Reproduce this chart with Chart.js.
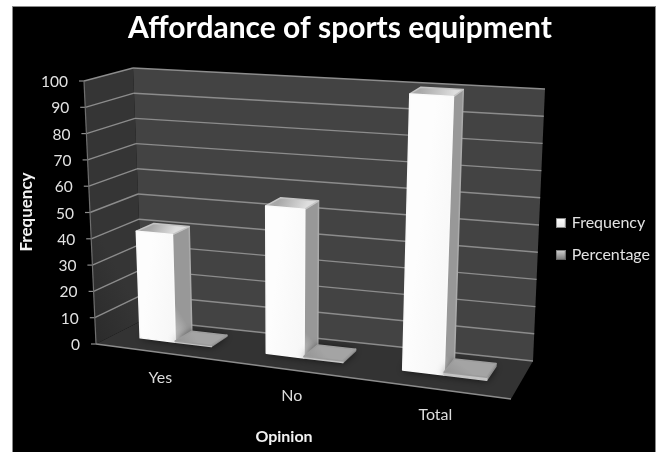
<!DOCTYPE html>
<html>
<head>
<meta charset="utf-8">
<title>Affordance of sports equipment</title>
<script src="https://cdn.jsdelivr.net/npm/chart.js@4/dist/chart.umd.min.js"></script>
<style>
  html, body { margin: 0; padding: 0; background: #fff; }
  #wrap { width: 663px; height: 452px; }
</style>
</head>
<body>
<div id="wrap"><canvas id="grafico" width="663" height="452"></canvas></div>
<script>
const categorias = ['Yes', 'No', 'Total'];
const frecuencia = [41, 55, 100];
const porcentaje = [0.41, 0.55, 1];
const marcasY = [0, 10, 20, 30, 40, 50, 60, 70, 80, 90, 100];

const FUENTE = 'Lato, "Open Sans", sans-serif';

// Corners of the 3D box: floor and ceiling, front-left going round to back-left
const PISO = [[96, 344], [511, 399], [533, 361], [143, 320]];
const TECHO = [[84, 81], [525, 109], [545, 89], [133, 68]];
const BARRA_V = [0.38, 0.76]; // depth of the bars inside the box
const PESO_PERSPECTIVA = 0.4; // how much of the projective map goes in; the rest is bilinear

// Unit square -> quad, part projective so the right side looks a bit closer
function mapaCuadro(q) {
  const [[x0, y0], [x1, y1], [x2, y2], [x3, y3]] = q;
  const sx = x0 - x1 + x2 - x3, sy = y0 - y1 + y2 - y3;
  const dx1 = x1 - x2, dx2 = x3 - x2, dy1 = y1 - y2, dy2 = y3 - y2;
  const den = dx1 * dy2 - dx2 * dy1;
  const g = (sx * dy2 - dx2 * sy) / den;
  const h = (dx1 * sy - sx * dy1) / den;
  const a = x1 - x0 + g * x1, b = x3 - x0 + h * x3;
  const d = y1 - y0 + g * y1, e = y3 - y0 + h * y3;
  return (u, v) => {
    const w = g * u + h * v + 1;
    const px = (a * u + b * v + x0) / w, py = (d * u + e * v + y0) / w;
    const bx = x0 * (1 - u) * (1 - v) + x1 * u * (1 - v) + x2 * u * v + x3 * (1 - u) * v;
    const by = y0 * (1 - u) * (1 - v) + y1 * u * (1 - v) + y2 * u * v + y3 * (1 - u) * v;
    return [bx + (px - bx) * PESO_PERSPECTIVA, by + (py - by) * PESO_PERSPECTIVA];
  };
}
const piso = mapaCuadro(PISO);
const techo = mapaCuadro(TECHO);

// u: across the categories, v: depth, t: height (all 0..1)
function proy(u, v, t) {
  const f = piso(u, v), c = techo(u, v);
  return [f[0] + (c[0] - f[0]) * t, f[1] + (c[1] - f[1]) * t];
}

function poligono(ctx, pts, fill, borde) {
  ctx.beginPath();
  pts.forEach((p, i) => i ? ctx.lineTo(p[0], p[1]) : ctx.moveTo(p[0], p[1]));
  ctx.closePath();
  ctx.fillStyle = fill;
  ctx.fill();
  if (borde) {
    ctx.strokeStyle = borde;
    ctx.lineWidth = 1.5;
    ctx.lineJoin = 'round';
    ctx.stroke();
  }
}

function linea(ctx, a, b, color, ancho) {
  ctx.beginPath();
  ctx.moveTo(a[0], a[1]);
  ctx.lineTo(b[0], b[1]);
  ctx.strokeStyle = color;
  ctx.lineWidth = ancho;
  ctx.stroke();
}

function degradado(ctx, a, b, c0, c1) {
  const g = ctx.createLinearGradient(a[0], a[1], b[0], b[1]);
  g.addColorStop(0, c0);
  g.addColorStop(1, c1);
  return g;
}

// Small bevelled square used as legend key
function iconoLeyenda(claro, oscuro) {
  const c = document.createElement('canvas');
  c.width = 10;
  c.height = 10;
  const g = c.getContext('2d');
  const grad = g.createLinearGradient(0, 0, 0, 10);
  grad.addColorStop(0, claro);
  grad.addColorStop(1, oscuro);
  g.fillStyle = grad;
  g.fillRect(0, 0, 10, 10);
  g.strokeStyle = 'rgba(90,90,90,0.7)';
  g.strokeRect(0.5, 0.5, 9, 9);
  return c;
}
const iconos = [iconoLeyenda('#ffffff', '#e4e4e4'), iconoLeyenda('#d4d4d4', '#777777')];

function dibujarCaja(ctx, escalaY) {
  poligono(ctx, [proy(0, 0, 0), proy(0, 1, 0), proy(0, 1, 1), proy(0, 0, 1)],
    degradado(ctx, proy(0, 0, 0), proy(0, 1, 0), '#2b2b2b', '#353535'));
  poligono(ctx, [proy(0, 1, 0), proy(1, 1, 0), proy(1, 1, 1), proy(0, 1, 1)], '#434343');
  poligono(ctx, [proy(0, 0, 0), proy(1, 0, 0), proy(1, 1, 0), proy(0, 1, 0)], '#333333');

  escalaY.ticks.forEach(tick => {
    const t = (escalaY.bottom - escalaY.getPixelForValue(tick.value)) / (escalaY.bottom - escalaY.top);
    const color = '#8c8c8c';
    if (tick.value > 0) linea(ctx, proy(0, 0, t), proy(0, 1, t), color, 1.4);
    linea(ctx, proy(0, 1, t), proy(1, 1, t), color, 1.4);
    // tick mark and label on the front edge
    const p = proy(0, 0, t);
    linea(ctx, [p[0] - 5, p[1]], p, '#8c8c8c', 1.2);
    ctx.fillStyle = '#e2e2e2';
    ctx.font = '15.5px ' + FUENTE;
    ctx.textAlign = 'right';
    ctx.textBaseline = 'middle';
    ctx.fillText(String(tick.value), p[0] - 16, p[1] + 1);
  });
  linea(ctx, proy(0, 0, 0), proy(0, 0, 1), '#6e6e6e', 1.2);
  linea(ctx, proy(0, 0, 0), proy(1, 0, 0), '#8c8c8c', 1.4);
}

function dibujarBarra(ctx, u0, u1, t, plano) {
  const [v0, v1] = BARRA_V;
  const base = [proy(u0, v0, 0), proy(u1, v0, 0), proy(u1, v1, 0), proy(u0, v1, 0)];

  // soft shadow on the floor around the foot of the bar
  ctx.save();
  ctx.shadowColor = 'rgba(0,0,0,0.75)';
  ctx.shadowBlur = 8;
  poligono(ctx, base, '#222');
  ctx.restore();

  const frente = [proy(u0, v0, 0), proy(u1, v0, 0), proy(u1, v0, t), proy(u0, v0, t)];
  const lado = [proy(u1, v0, 0), proy(u1, v1, 0), proy(u1, v1, t), proy(u1, v0, t)];
  const tapa = [proy(u0, v0, t), proy(u1, v0, t), proy(u1, v1, t), proy(u0, v1, t)];

  if (plano) {
    poligono(ctx, lado, '#8c8c8c', '#8c8c8c');
    poligono(ctx, frente, '#c4c4c4', '#c4c4c4');
    poligono(ctx, tapa, degradado(ctx, tapa[3], tapa[0], '#a4a4a4', '#949494'), '#9c9c9c');
  } else {
    poligono(ctx, lado, degradado(ctx, lado[0], lado[1], '#c6c6c6', '#989898'), '#ababab');
    poligono(ctx, tapa, degradado(ctx, tapa[3], tapa[1], '#a8a8a8', '#dedede'), '#c4c4c4');
    poligono(ctx, frente, degradado(ctx, frente[0], frente[1], '#fdfdfd', '#f6f6f6'), '#fafafa');
  }
}

// Chart.js keeps the scales and bar elements; the 3D look is painted from them
const caja3d = {
  id: 'caja3d',
  beforeDraw(chart) {
    const ctx = chart.ctx;
    ctx.save();
    ctx.fillStyle = '#000';
    ctx.fillRect(12, 6, 644, 446);
    ctx.strokeStyle = '#8a8a8a';
    ctx.lineWidth = 1;
    ctx.strokeRect(12.5, 6.5, 643, 446);
    ctx.restore();
  },
  beforeDatasetsDraw(chart) {
    const ctx = chart.ctx;
    const area = chart.chartArea;
    const escalaX = chart.scales.x, escalaY = chart.scales.y;
    ctx.save();
    dibujarCaja(ctx, escalaY);

    chart.data.labels.forEach((etq, i) => {
      chart.data.datasets.forEach((ds, d) => {
        const el = chart.getDatasetMeta(d).data[i];
        const u0 = (el.x - el.width / 2 - area.left) / area.width;
        const u1 = (el.x + el.width / 2 - area.left) / area.width;
        const t = (escalaY.bottom - el.y) / (escalaY.bottom - escalaY.top);
        dibujarBarra(ctx, u0, u1, t, d === 1);
      });
      // category label under the front edge of the floor
      const uc = (escalaX.getPixelForValue(i) - area.left) / area.width;
      const p = proy(uc, 0, 0);
      ctx.fillStyle = '#dcdcdc';
      ctx.font = '16px ' + FUENTE;
      ctx.textAlign = 'center';
      ctx.textBaseline = 'middle';
      ctx.fillText(etq, p[0] + 2, p[1] + 26);
    });

    // axis titles
    ctx.fillStyle = '#f2f2f2';
    ctx.font = 'bold 16px ' + FUENTE;
    ctx.textAlign = 'center';
    ctx.textBaseline = 'middle';
    ctx.fillText(chart.options.scales.x.title.text, 284, 437);
    ctx.translate(27, 212);
    ctx.rotate(-Math.PI / 2);
    ctx.font = 'bold 17px ' + FUENTE;
    ctx.fillText(chart.options.scales.y.title.text, 0, 0);
    ctx.restore();
    return false;
  }
};

new Chart(document.getElementById('grafico'), {
  type: 'bar',
  plugins: [caja3d],
  data: {
    labels: categorias,
    datasets: [
      { label: 'Frequency', data: frecuencia, backgroundColor: '#f2f2f2', borderColor: '#bdbdbd', borderWidth: 1 },
      { label: 'Percentage', data: porcentaje, backgroundColor: '#9a9a9a', borderColor: '#6a6a6a', borderWidth: 1 },
    ]
  },
  options: {
    responsive: false,
    animation: false,
    devicePixelRatio: 1,
    categoryPercentage: 2 / 3.5,
    barPercentage: 1,
    layout: { padding: { top: 7, right: 3, bottom: 173, left: 20 } },
    plugins: {
      tooltip: { enabled: false },
      title: {
        display: true,
        text: 'Affordance of sports equipment',
        color: '#fff',
        font: { family: FUENTE, size: 30, weight: 'bold' },
        padding: { top: 3, bottom: 10 },
      },
      legend: {
        position: 'right',
        align: 'end',
        labels: {
          color: '#e2e2e2',
          font: { family: FUENTE, size: 16 },
          usePointStyle: true,
          pointStyleWidth: 6,
          boxHeight: 10,
          padding: 16,
          generateLabels: ch => Chart.defaults.plugins.legend.labels.generateLabels(ch)
            .map((item, i) => ({ ...item, pointStyle: iconos[i] })),
        }
      }
    },
    scales: {
      x: { display: false, title: { text: 'Opinion' } },
      y: {
        display: false,
        min: 0,
        max: 100,
        afterBuildTicks: s => { s.ticks = marcasY.map(value => ({ value })); },
        title: { text: 'Frequency' }
      }
    }
  }
});
</script>
</body>
</html>
